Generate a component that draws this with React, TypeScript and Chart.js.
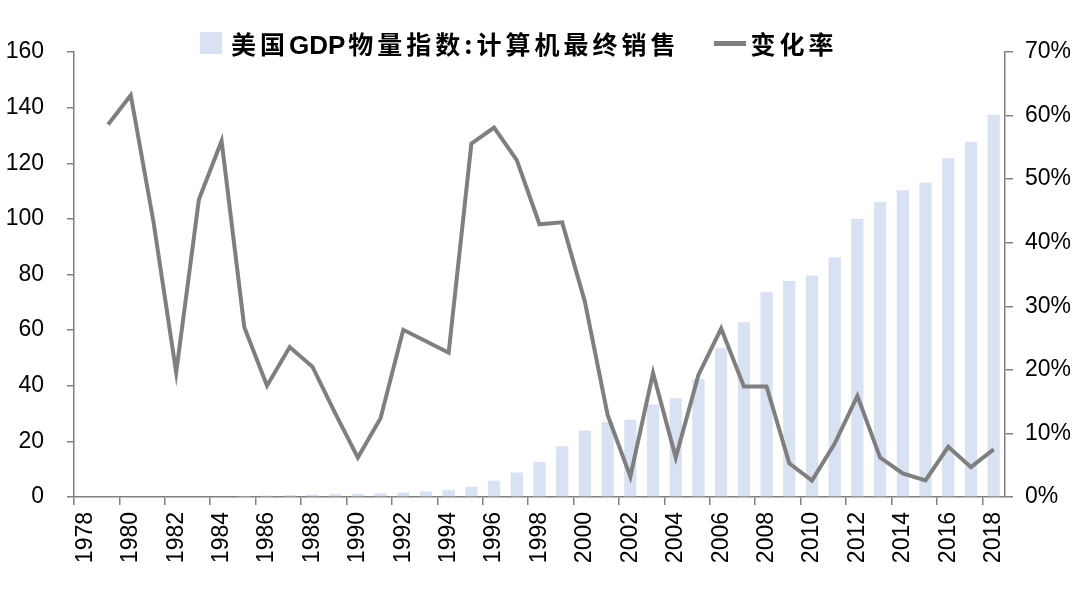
import React, { useEffect, useRef } from "react";
import { Chart, registerables } from "chart.js";

Chart.register(...registerables);

const years: string[] = [
  "1978", "1979", "1980", "1981", "1982", "1983", "1984", "1985", "1986", "1987",
  "1988", "1989", "1990", "1991", "1992", "1993", "1994", "1995", "1996", "1997",
  "1998", "1999", "2000", "2001", "2002", "2003", "2004", "2005", "2006", "2007",
  "2008", "2009", "2010", "2011", "2012", "2013", "2014", "2015", "2016", "2017", "2018",
];

const indexValues: number[] = [
  0, 0, 0, 0, 0, 0, 0, 0.4, 0.5, 0.65,
  0.85, 1.0, 1.15, 1.3, 1.6, 2.0, 2.5, 3.7, 5.9, 8.8,
  12.6, 18.3, 23.9, 27.0, 27.8, 33.3, 35.5, 42.4, 53.7, 62.8,
  73.8, 77.7, 79.6, 86.2, 100.0, 106.1, 110.3, 113.0, 121.8, 127.7, 137.4,
];

const changeRate: (number | null)[] = [
  null, 58.6, 63.2, 43.3, 19.6, 46.8, 56.0, 26.7, 17.5, 23.6,
  20.5, 13.2, 6.2, 12.4, 26.3, 24.5, 22.7, 55.6, 58.1, 53.0,
  42.9, 43.2, 30.7, 12.9, 3.2, 19.5, 6.2, 19.2, 26.5, 17.4,
  17.4, 5.3, 2.6, 8.4, 15.9, 6.2, 3.7, 2.6, 7.9, 4.7, 7.5,
];

const leftTicks = { min: 0, max: 160, step: 20 };
const rightTicks = { min: 0, max: 70, step: 10 };

const barLabelParts: string[] = ["美国", "GDP", "物量指数:计算机最终销售"];
const barLabel = barLabelParts.join("");
const lineLabel = "变化率";

const BAR_COLOR = "#D9E2F3";
const LINE_COLOR = "#7F7F7F";
const AXIS_COLOR = "#808080";
const TICK_FONT = { family: "'Liberation Sans', Arial, sans-serif", size: 23 };

export default function App() {
  const canvasRef = useRef<HTMLCanvasElement | null>(null);

  useEffect(() => {
    const canvas = canvasRef.current;
    if (!canvas) return;
    const chart = new Chart(canvas, {
      type: "bar",
      data: {
        labels: years,
        datasets: [
          {
            type: "line",
            label: lineLabel,
            data: changeRate,
            yAxisID: "y1",
            borderColor: LINE_COLOR,
            backgroundColor: LINE_COLOR,
            borderWidth: 4,
            pointRadius: 0,
            tension: 0,
            order: 0,
          } as any,
          {
            type: "bar",
            label: barLabel,
            data: indexValues,
            yAxisID: "y",
            backgroundColor: BAR_COLOR,
            barPercentage: 0.54,
            categoryPercentage: 1,
            order: 1,
          },
        ],
      },
      options: {
        responsive: false,
        animation: false,
        layout: { padding: { top: 52, left: 0, right: 0, bottom: 0 } },
        plugins: {
          legend: { display: false },
          tooltip: { enabled: false },
        },
        scales: {
          x: {
            offset: true,
            grid: {
              offset: true,
              drawOnChartArea: false,
              drawTicks: true,
              tickLength: 8,
              lineWidth: 1.5,
              color: (ctx: any) =>
                typeof ctx.index === "number" && ctx.index % 2 === 0 ? AXIS_COLOR : "rgba(0,0,0,0)",
            },
            border: { color: AXIS_COLOR, width: 1.5 },
            ticks: {
              autoSkip: false,
              maxRotation: 90,
              minRotation: 90,
              padding: 7,
              color: "#000",
              font: TICK_FONT,
              callback: (_v: any, i: number) => (i % 2 === 0 ? years[i] : ""),
            },
            afterFit: (s: any) => {
              s.height = 101;
            },
          },
          y: {
            position: "left",
            min: leftTicks.min,
            max: leftTicks.max,
            grid: { drawOnChartArea: false, tickLength: 7, color: AXIS_COLOR, lineWidth: 1.5 },
            border: { color: AXIS_COLOR, width: 1.5 },
            ticks: { stepSize: leftTicks.step, padding: 23, color: "#000", font: TICK_FONT },
            afterFit: (s: any) => {
              s.width = 74;
            },
          },
          y1: {
            position: "right",
            min: rightTicks.min,
            max: rightTicks.max,
            grid: { drawOnChartArea: false, tickLength: 8, color: AXIS_COLOR, lineWidth: 1.5 },
            border: { color: AXIS_COLOR, width: 1.5 },
            ticks: {
              stepSize: rightTicks.step,
              padding: 12,
              color: "#000",
              font: TICK_FONT,
              callback: (v: any) => `${v}%`,
            },
            afterFit: (s: any) => {
              s.width = 75;
            },
          },
        },
      },
    });
    return () => chart.destroy();
  }, []);

  const legendFont = "'Noto Sans CJK SC', sans-serif";

  return (
    <div style={{ position: "absolute", left: 0, top: 0, width: 1080, height: 598, background: "#fff" }}>
      <canvas ref={canvasRef} width={1080} height={598} style={{ display: "block" }} />
      <div
        style={{
          position: "absolute",
          left: 200,
          top: 23,
          height: 40,
          display: "flex",
          alignItems: "center",
          fontFamily: legendFont,
          fontWeight: 700,
          fontSize: 25,
          letterSpacing: 4,
          color: "#000",
          whiteSpace: "nowrap",
        }}
      >
        <span style={{ display: "inline-block", width: 22, height: 22, background: BAR_COLOR, marginRight: 9 }} />
        <span>
          {barLabelParts[0]}
          <span style={{ letterSpacing: 0, fontFamily: "'Liberation Sans', Arial, sans-serif", fontSize: 26, marginRight: 3 }}>
            {barLabelParts[1]}
          </span>
          {barLabelParts[2]}
        </span>
        <span style={{ display: "inline-block", width: 32, height: 5, background: LINE_COLOR, marginLeft: 34, marginRight: 5 }} />
        <span>{lineLabel}</span>
      </div>
    </div>
  );
}
